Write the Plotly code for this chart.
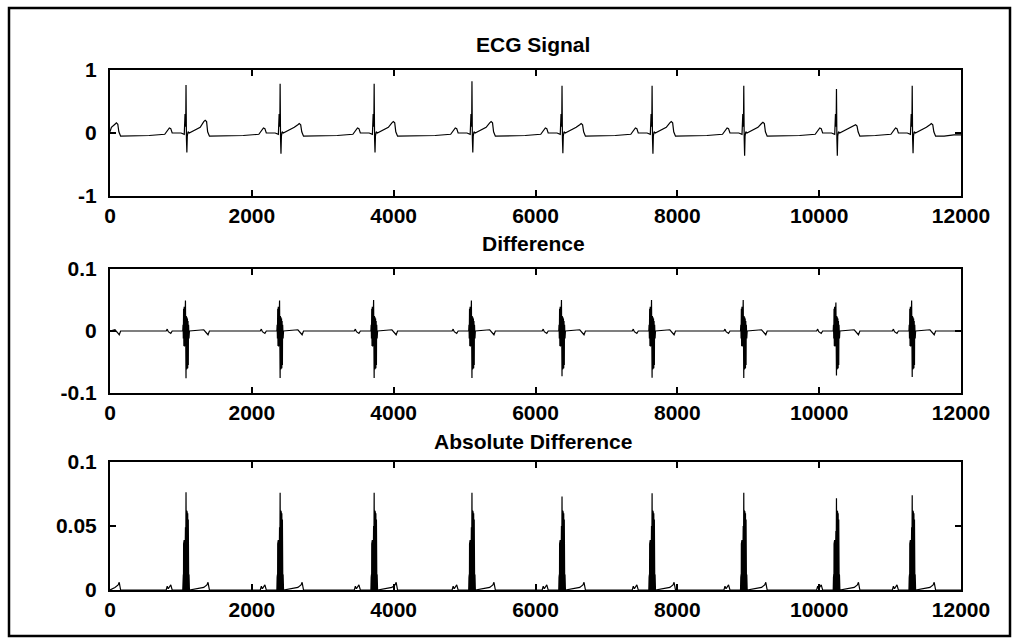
import numpy as np
import plotly.graph_objects as go

# ---------------- data ----------------
# R-peak sample positions (the first beat lies just before x=0; only its T wave shows)
BEAT_POS = [-180, 1072, 2399, 3725, 5104, 6374, 7644, 8937, 10244, 11312]
R_PEAK   = [0.78, 0.76, 0.78, 0.78, 0.82, 0.75, 0.75, 0.75, 0.70, 0.75]
S_TROUGH = [-0.31, -0.31, -0.33, -0.31, -0.31, -0.32, -0.33, -0.36, -0.36, -0.32]
T_PEAK   = [0.16, 0.20, 0.15, 0.18, 0.18, 0.15, 0.18, 0.17, 0.13, 0.15]

# one ECG beat: sample offset from the R peak and value ('R','S','T' = per-beat values above)
ECG_OFFSETS = [-520, -300, -265, -235, -215, -195, -70, -25, -14, -8, -3, 0, 6, 12, 18, 28, 45,
               120, 200, 250, 270, 290, 305, 330, 450]
ECG_SHAPE   = [-0.04, -0.02, 0.03, 0.08, 0.07, 0.0, 0.0, -0.02, 0.30, 0.10, 0.32, "R", -0.10, "S",
               -0.05, 0.02, 0.0, 0.04, 0.09, "Tm", "T", "Tm", 0.02, -0.05, -0.05]
ECG_HEAD = ([0], [0.02])
ECG_TAIL = ([11900, 12000], [-0.03, -0.03])

# Difference: per-beat extremes and the shape around each beat
DIFF_MAX = [0.049, 0.049, 0.049, 0.050, 0.049, 0.050, 0.050, 0.050, 0.046, 0.049]
DIFF_MIN = [-0.076, -0.0763, -0.076, -0.076, -0.076, -0.073, -0.0755, -0.076, -0.0716, -0.074]
DIFF_OFFSETS = [-280, -265, -250, -215, -195,
                -46, -42, -40, -38, -36, -34, -32, -30, -28, -26, -24, -22, -20, -18, -16,
                -14, -12, -10, -8, -6, -4, -2,
                0, 2, 4, 6, 8, 10, 12, 14, 16, 18, 20, 22, 24, 26, 28, 30, 32, 34, 36, 38,
                42, 48,
                250, 295, 310, 330]
DIFF_SHAPE   = [0.0, 0.003, -0.001, -0.004, 0.0,
                0.0, 0.010, 0.0, -0.012, 0.0, 0.036, 0.0, -0.024, 0.0, 0.039, 0.0, -0.025,
                0.0, 0.038, 0.0, -0.024, 0.0, 0.039, "MAX", 0.0, -0.025, 0.036,
                "MIN", 0.0, 0.024, 0.0, -0.062, 0.0, 0.022, 0.0, -0.061, 0.0, 0.020, 0.0,
                -0.060, 0.0, 0.016, 0.0, -0.055, 0.0, 0.010, 0.0,
                -0.012, 0.0,
                0.002, -0.004, -0.006, 0.0]

X_TICKS = [0, 2000, 4000, 6000, 8000, 10000, 12000]
Y_TICKS = [([-1, 0, 1], ["-1", "0", "1"]),
           ([-0.1, 0, 0.1], ["-0.1", "0", "0.1"]),
           ([0, 0.05, 0.1], ["0", "0.05", "0.1"])]
Y_RANGES = [[-1, 1], [-0.1, 0.1], [0, 0.1]]
TITLES = ["ECG Signal", "Difference", "Absolute Difference"]
X_MAX = 12000


def build(offsets, shape, subs, head, tail):
    xs, ys = list(head[0]), list(head[1])
    for i, b in enumerate(BEAT_POS):
        for o, v in zip(offsets, shape):
            x = b + o
            if x <= (xs[-1] if xs else -1) or x > X_MAX:
                continue
            xs.append(x)
            ys.append(subs[v][i] if isinstance(v, str) else v)
    xs += list(tail[0])
    ys += list(tail[1])
    return np.array(xs), np.array(ys)


T_MID = [t - 0.02 for t in T_PEAK]
ecg_x, ecg_y = build(ECG_OFFSETS, ECG_SHAPE,
                     {"R": R_PEAK, "S": S_TROUGH, "T": T_PEAK, "Tm": T_MID},
                     ECG_HEAD, ECG_TAIL)
diff_x, diff_y = build(DIFF_OFFSETS, DIFF_SHAPE, {"MAX": DIFF_MAX, "MIN": DIFF_MIN},
                       ([0], [0.0]), ([X_MAX], [0.0]))
absdiff_y = np.abs(diff_y)

# ---------------- figure ----------------
W, H = 1016, 642
X0, X1 = 110, 961
PANELS = [(70, 196), (269, 393), (462, 590)]   # pixel top/bottom of each axes box
TITLE_Y = [44, 243, 441]

fig = go.Figure()
series = [(ecg_x, ecg_y), (diff_x, diff_y), (diff_x, absdiff_y)]
for k, (sx, sy) in enumerate(series):
    sfx = "" if k == 0 else str(k + 1)
    fig.add_trace(go.Scatter(x=sx, y=sy, mode="lines", line=dict(color="black", width=1.2),
                             xaxis="x" + sfx, yaxis="y" + sfx, showlegend=False,
                             hoverinfo="skip"))

tickfont = dict(family="Liberation Sans, Arial, sans-serif", size=21, color="black", weight="bold")
axis_common = dict(showline=True, linecolor="black", linewidth=2, mirror="ticks",
                   ticks="inside", ticklen=6, tickwidth=2, tickcolor="black",
                   showgrid=False, zeroline=False, tickfont=tickfont, automargin=False,
                   fixedrange=True)

layout = dict(width=W, height=H, margin=dict(l=0, r=0, t=0, b=0, pad=0),
              paper_bgcolor="white", plot_bgcolor="white", showlegend=False)
for k, (top, bot) in enumerate(PANELS):
    sfx = "" if k == 0 else str(k + 1)
    layout["xaxis" + sfx] = dict(domain=[X0 / W, X1 / W], range=[0, X_MAX],
                                 tickvals=X_TICKS, ticktext=[str(t) for t in X_TICKS],
                                 anchor="y" + sfx, ticklabelstandoff=0, **axis_common)
    layout["yaxis" + sfx] = dict(domain=[1 - bot / H, 1 - top / H], range=Y_RANGES[k],
                                 tickvals=Y_TICKS[k][0], ticktext=Y_TICKS[k][1],
                                 anchor="x" + sfx, ticklabelstandoff=7, **axis_common)
fig.update_layout(**layout)

for k, t in enumerate(TITLES):
    fig.add_annotation(text=t, x=533 / W, y=1 - TITLE_Y[k] / H, xref="paper", yref="paper",
                       showarrow=False, xanchor="center", yanchor="middle",
                       font=dict(family="Liberation Sans, Arial, sans-serif", size=21,
                                 color="black", weight="bold"))

# outer figure frame
fig.add_shape(type="rect", xref="paper", yref="paper", x0=9 / W, x1=1010 / W,
              y0=1 - 636 / H, y1=1 - 8 / H, line=dict(color="black", width=2.5))

fig.write_html("out.html", config={"displayModeBar": False})
